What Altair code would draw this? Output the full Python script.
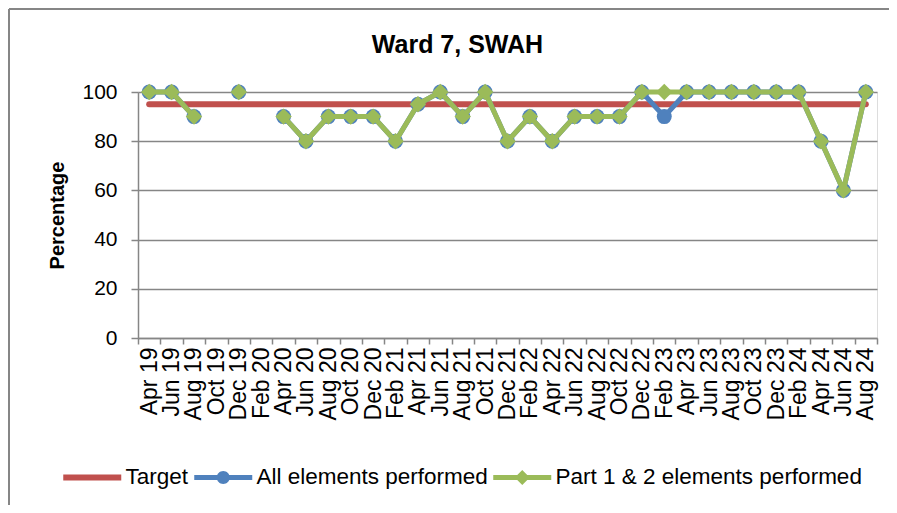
import altair as alt
import pandas as pd

months = ["Apr 19", "Jun 19", "Aug 19", "Oct 19", "Dec 19", "Feb 20", "Apr 20", "Jun 20",
          "Aug 20", "Oct 20", "Dec 20", "Feb 21", "Apr 21", "Jun 21", "Aug 21", "Oct 21",
          "Dec 21", "Feb 22", "Apr 22", "Jun 22", "Aug 22", "Oct 22", "Dec 22", "Feb 23",
          "Apr 23", "Jun 23", "Aug 23", "Oct 23", "Dec 23", "Feb 24", "Apr 24", "Jun 24",
          "Aug 24"]
target = [95, 95, 95, 95, 95, 95, 95, 95, 95, 95, 95, 95, 95, 95, 95, 95, 95,
          95, 95, 95, 95, 95, 95, 95, 95, 95, 95, 95, 95, 95, 95, 95, 95]
all_elements = [100, 100, 90, None, 100, None, 90, 80, 90, 90, 90, 80, 95, 100, 90, 100,
                80, 90, 80, 90, 90, 90, 100, 90, 100, 100, 100, 100, 100, 100, 80, 60, 100]
part_1_2 = [100, 100, 90, None, 100, None, 90, 80, 90, 90, 90, 80, 95, 100, 90, 100,
            80, 90, 80, 90, 90, 90, 100, 100, 100, 100, 100, 100, 100, 100, 80, 60, 100]

series_names = ["Target", "All elements performed", "Part 1 & 2 elements performed"]
colors = ["#C0504D", "#4F81BD", "#9BBB59"]

rows = []
for name, vals in zip(series_names, [target, all_elements, part_1_2]):
    for m, v in zip(months, vals):
        rows.append({"month": m, "series": name, "value": v})
df = pd.DataFrame(rows)

FONT = "Liberation Sans"
GRAY = "#868686"

x_enc = alt.X("month:N", sort=months,
              scale=alt.Scale(type="band", paddingInner=0, paddingOuter=0),
              axis=alt.Axis(title=None, labelAngle=-90, labelFont=FONT, labelFontSize=23,
                            labelColor="black", labelPadding=3, labelOverlap=False,
                            labelBound=False, tickBand="extent", tickSize=6,
                            tickColor=GRAY, tickWidth=1.5, domainColor=GRAY,
                            domainWidth=1.5, grid=False))
y_enc = alt.Y("value:Q", scale=alt.Scale(domain=[0, 100], nice=False, zero=True),
              axis=alt.Axis(values=[0, 20, 40, 60, 80, 100], title="Percentage",
                            titleFont=FONT, titleFontSize=20, titleFontWeight="bold",
                            titleColor="black", titlePadding=14,
                            labelFont=FONT, labelFontSize=21, labelColor="black",
                            labelPadding=14, tickSize=7, tickColor=GRAY, tickWidth=1.5,
                            domainColor=GRAY, domainWidth=1.5, gridColor=GRAY,
                            gridWidth=1.5))

base = alt.Chart(df).encode(x=x_enc, y=y_enc)


def line_layer(name, color, width):
    return base.transform_filter(alt.datum.series == name).mark_line(
        color=color, strokeWidth=width, strokeCap="round", strokeJoin="round",
        invalid="break-paths-show-domains", clip=False)


def point_layer(name, color, shape, size):
    return base.transform_filter(alt.datum.series == name).transform_filter(
        "isValid(datum.value)").mark_point(
        filled=True, shape=shape, size=size, color=color, opacity=1, clip=False)


legend_paths = [
    "M-2.9,-0.3 H2.9 V0.3 H-2.9 Z",
    "M-2.9,-0.25 H2.9 V0.25 H-2.9 Z M0,-0.65 A0.65,0.65 0 1 1 0,0.65 A0.65,0.65 0 1 1 0,-0.65 Z",
    "M-2.9,-0.25 H2.9 V0.25 H-2.9 Z M0,-0.75 L0.75,0 L0,0.75 L-0.75,0 Z",
]

legend_props = dict(
    title=None, orient="none", legendX=-57, legendY=374, direction="horizontal",
    symbolSize=400, symbolStrokeWidth=0, symbolOpacity=1, labelFont=FONT,
    labelFontSize=22.5, labelColor="black", labelOffset=22, columnPadding=5,
    labelLimit=0,
)

legend_layer = base.transform_filter("isValid(datum.value)").mark_point(
    filled=True, opacity=0).encode(
    color=alt.Color("series:N", scale=alt.Scale(domain=series_names, range=colors),
                    legend=alt.Legend(**legend_props)),
    shape=alt.Shape("series:N", scale=alt.Scale(domain=series_names, range=legend_paths),
                    legend=alt.Legend(**legend_props)),
)

border = alt.Chart(pd.DataFrame({"k": [0]})).mark_rule(color=GRAY, strokeWidth=2, clip=False)
border_left = border.encode(x=alt.value(-129), y=alt.value(-83), y2=alt.value(420))
border_top = border.encode(x=alt.value(-129), x2=alt.value(760), y=alt.value(-83))

chart = alt.layer(
    border_left, border_top,
    line_layer("Target", colors[0], 6),
    line_layer("All elements performed", colors[1], 5),
    point_layer("All elements performed", colors[1], "circle", 225),
    line_layer("Part 1 & 2 elements performed", colors[2], 5),
    point_layer("Part 1 & 2 elements performed", colors[2], "diamond", 270),
    legend_layer,
).properties(
    width=739, height=246,
    title=alt.TitleParams("Ward 7, SWAH", font=FONT, fontSize=25, fontWeight="bold",
                          color="black", anchor="middle", frame="group", dx=-50,
                          offset=-70, baseline="alphabetic"),
    autosize=alt.AutoSizeParams(type="none"),
    padding={"left": 130, "top": 84, "right": 12, "bottom": 167},
).configure_view(stroke=None).configure(background="white")

chart.save("out.html", embed_options={"renderer": "svg", "actions": False})
